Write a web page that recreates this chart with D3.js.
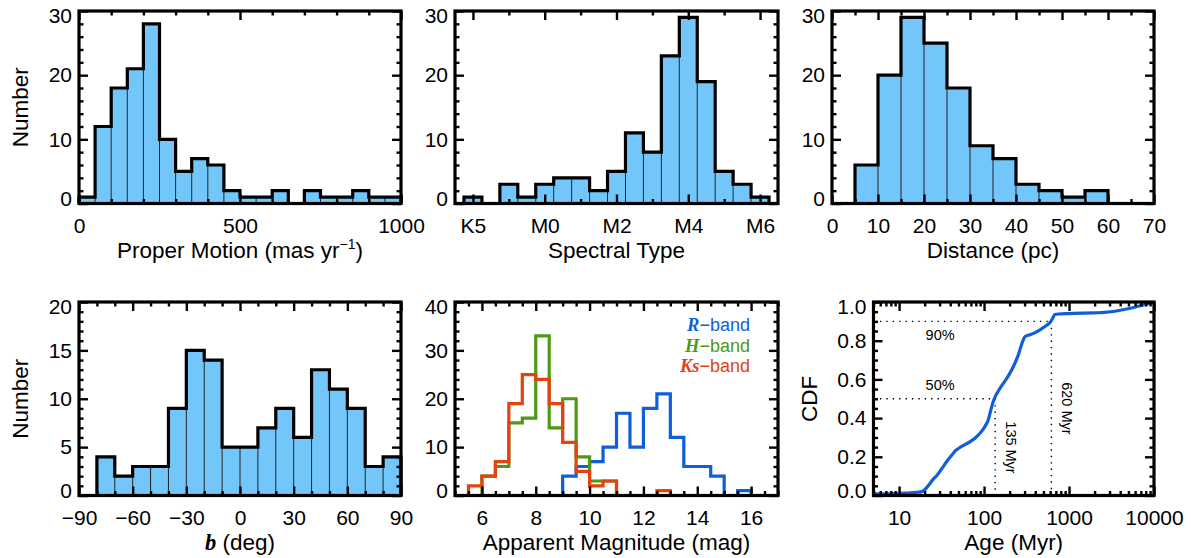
<!DOCTYPE html>
<html><head><meta charset="utf-8">
<script src="https://cdn.jsdelivr.net/npm/d3@7"></script>
<style>
body{margin:0;background:#fff}
svg{display:block}
</style></head><body>
<svg id="c" width="1191" height="558"></svg>
<script>
// ---------------- DATA ----------------
const pmEdges  = [0,50,100,150,200,250,300,350,400,450,500,550,600,650,700,750,800,850,900,950,1000];
const pmCounts = [1,12,18,21,28,10,5,7,6,2,1,1,2,0,2,1,1,2,1,1];

const spCenters = [-2,-1.5,-1,-0.5,0,0.5,1,1.5,2,2.5,3,3.5,4,4.5,5,5.5,6];
const spCounts  = [1,0,3,1,3,4,4,2,5,11,8,23,29,19,5,3,1];
const spTickValues = [-2,0,2,4,6];
const spTickLabels = ["K5","M0","M2","M4","M6"];

const distEdges  = [5,10,15,20,25,30,35,40,45,50,55,60];
const distCounts = [6,20,29,25,18,9,7,3,2,1,2];

const bEdges  = [-90,-80,-70,-60,-50,-40,-30,-20,-10,0,10,20,30,40,50,60,70,80,90];
const bCounts = [0,4,2,3,3,9,15,14,5,5,7,9,6,13,11,9,3,4];

const magEdges = [5.5,6,6.5,7,7.5,8,8.5,9,9.5,10,10.5,11,11.5,12,12.5,13,13.5,14,14.5,15,15.5,16];
const magR  = [0,0,0,0,0,0,0,4,6,7,10,17,10,18,21,12,6,6,4,0,1];
const magH  = [0,4,6,15,16,33,14,20,8,3,3,0,0,0,0,0,0,0,0,0,0];
const magKs = [2,4,7,19,25,24,19,11,5,2,3,0,0,0,1,0,0,0,0,0,0];
const bandNames = ["R","H","Ks"];

const ageMyr = [5,8,12,16,18.5,20,22,25,28,32,37,42,46,50,58,68,80,95,105,112,120,128,135,145,160,185,215,250,290,305,340,400,470,540,600,640,680,750,1000,1500,2000,2600,3300,4300,5300,6500,8000,10000];
const cdfVal = [0.008,0.009,0.012,0.016,0.02,0.03,0.05,0.082,0.105,0.14,0.18,0.21,0.232,0.243,0.26,0.277,0.30,0.335,0.365,0.39,0.44,0.485,0.51,0.535,0.565,0.605,0.655,0.72,0.805,0.822,0.83,0.842,0.86,0.878,0.895,0.915,0.935,0.938,0.94,0.942,0.944,0.946,0.951,0.96,0.968,0.978,0.988,0.998];
const cdfMarks = [{age:135, level:0.5, pct:"50%", lab:"135 Myr", pctAbove:true},{age:620, level:0.9, pct:"90%", lab:"620 Myr", pctAbove:false}];

// ---------------- STYLE ----------------
const FONT = '"Liberation Sans", Arial, Helvetica, sans-serif';
const SERIF = '"Liberation Serif", "Times New Roman", Times, serif';
const TICK_FS = 21, TITLE_FS = 22.5;
const FILL = "#72c6fa";
const BLUE = "#0f5fd8", GREEN = "#4f9a10", RED = "#e4420e";
const MAJ = 9, MIN = 4.5;

const svg = d3.select("#c");

function panel(x0, y0){ return svg.append("g").attr("transform", `translate(${x0},${y0})`); }

function axes(g, x, y, o){
  const w = x.range()[1], h = y.range()[0];
  const style = s => {
    s.select(".domain").remove();
    s.selectAll(".tick line").attr("stroke","#000").attr("stroke-width",2.4);
    s.selectAll(".tick text").attr("fill","#000").attr("font-size",TICK_FS).attr("font-family",FONT);
  };
  const mk = (ax, vals, size, fmt, pad) => ax.tickValues(vals).tickSize(size).tickFormat(fmt || (()=>"")).tickPadding(pad||0);
  g.append("g").attr("transform",`translate(0,${h})`).call(mk(d3.axisBottom(x), o.xMajor, -MAJ, o.xFmt, 14.5)).call(style);
  g.append("g").attr("transform",`translate(0,${h})`).call(mk(d3.axisBottom(x), o.xMinor, -MIN)).call(style);
  g.append("g").call(mk(d3.axisTop(x), o.xMajor, -MAJ)).call(style);
  g.append("g").call(mk(d3.axisTop(x), o.xMinor, -MIN)).call(style);
  const la = g.append("g").call(mk(d3.axisLeft(y), o.yMajor, -MAJ, o.yFmt, 7)).call(style);
  const t = la.selectAll(".tick text"); const n = t.size();
  t.attr("y", (d,i)=> i===0 ? -5 : (i===n-1 ? 5 : 0));
  g.append("g").call(mk(d3.axisLeft(y), o.yMinor, -MIN)).call(style);
  g.append("g").attr("transform",`translate(${w},0)`).call(mk(d3.axisRight(y), o.yMajor, -MAJ)).call(style);
  g.append("g").attr("transform",`translate(${w},0)`).call(mk(d3.axisRight(y), o.yMinor, -MIN)).call(style);
  g.append("rect").attr("width",w).attr("height",h).attr("fill","none").attr("stroke","#000").attr("stroke-width",3.2);
}

function stepPts(edges, counts){
  const pts = [[edges[0],0]];
  counts.forEach((c,i)=>pts.push([edges[i],c]));
  pts.push([edges[edges.length-1], counts[counts.length-1]]);
  pts.push([edges[edges.length-1], 0]);
  return pts;
}
function stepLine(x,y){ return d3.line().x(d=>x(d[0])).y(d=>y(d[1])).curve(d3.curveStepAfter); }

function hist(g, x, y, edges, counts){
  const bins = counts.map((c,i)=>({x0:edges[i], x1:edges[i+1], c}));
  g.append("g").selectAll("rect").data(bins.filter(d=>d.c>0)).join("rect")
    .attr("x", d=>x(d.x0)).attr("y", d=>y(d.c))
    .attr("width", d=>x(d.x1)-x(d.x0)).attr("height", d=>y(0)-y(d.c))
    .attr("fill", FILL);
  const div = [];
  for(let i=1;i<bins.length;i++){ const m = Math.min(bins[i-1].c, bins[i].c); if(m>0) div.push({e:edges[i], m}); }
  g.append("g").selectAll("line").data(div).join("line")
    .attr("x1",d=>x(d.e)).attr("x2",d=>x(d.e)).attr("y1",y(0)).attr("y2",d=>y(d.m))
    .attr("stroke","#222").attr("stroke-width",1);
  g.append("path").attr("d", stepLine(x,y)(stepPts(edges,counts)))
    .attr("fill","none").attr("stroke","#000").attr("stroke-width",3.2).attr("stroke-linejoin","miter");
}

function xTitle(g, w, h, build){
  const t = g.append("text").attr("x", w/2).attr("y", h+54).attr("text-anchor","middle")
    .attr("font-family",FONT).attr("font-size",TITLE_FS).attr("fill","#000");
  build(t);
}
function yTitle(g, h, xpos, str){
  g.append("text").attr("transform",`translate(${xpos},${h/2}) rotate(-90)`).attr("text-anchor","middle")
    .attr("font-family",FONT).attr("font-size",TITLE_FS).attr("fill","#000").text(str);
}

const TOPY = 11, TOPH = 192.5, BOTY = 302, BOTH = 193.5;
const r10 = (a,b,s) => d3.range(a,b+1e-9,s);
const notIn = (arr, maj) => arr.filter(v=>!maj.some(m=>Math.abs(m-v)<1e-9));
const fmtInt = d3.format("d");
const fmtMinus = d => (d<0 ? "\u2212"+Math.abs(d) : String(d));

// ---------- Panel 1: proper motion ----------
{
  const x0=79, w=322, g=panel(x0,TOPY);
  const x=d3.scaleLinear().domain([0,1000]).range([0,w]);
  const y=d3.scaleLinear().domain([0,30]).range([TOPH,0]);
  hist(g,x,y,pmEdges,pmCounts);
  const xMajor=[0,500,1000], yMajor=[0,10,20,30];
  axes(g,x,y,{xMajor, xMinor:notIn(r10(0,1000,100),xMajor), xFmt:fmtInt, yMajor, yMinor:notIn(r10(0,30,2),yMajor), yFmt:fmtInt});
  xTitle(g,w,TOPH,t=>{ t.append("tspan").text("Proper Motion (mas yr");
    t.append("tspan").attr("font-size",14).attr("dy",-9).text("\u22121");
    t.append("tspan").attr("dy",9).text(")"); });
  yTitle(g,TOPH,27.5-x0,"Number");
}
// ---------- Panel 2: spectral type ----------
{
  const x0=455, w=323, g=panel(x0,TOPY);
  const x=d3.scaleLinear().domain([-2.5,6.5]).range([0,w]);
  const y=d3.scaleLinear().domain([0,30]).range([TOPH,0]);
  const half = (spCenters[1]-spCenters[0])/2;
  const edges = spCenters.map(c=>c-half).concat([spCenters[spCenters.length-1]+half]);
  hist(g,x,y,edges,spCounts);
  const yMajor=[0,10,20,30];
  axes(g,x,y,{xMajor:spTickValues, xMinor:[-1,1,3,5], xFmt:d=>spTickLabels[spTickValues.indexOf(d)], yMajor, yMinor:notIn(r10(0,30,2),yMajor), yFmt:fmtInt});
  xTitle(g,w,TOPH,t=>t.text("Spectral Type"));
}
// ---------- Panel 3: distance ----------
{
  const x0=832, w=322, g=panel(x0,TOPY);
  const x=d3.scaleLinear().domain([0,70]).range([0,w]);
  const y=d3.scaleLinear().domain([0,30]).range([TOPH,0]);
  hist(g,x,y,distEdges,distCounts);
  const xMajor=r10(0,70,10), yMajor=[0,10,20,30];
  axes(g,x,y,{xMajor, xMinor:notIn(r10(0,70,5),xMajor), xFmt:fmtInt, yMajor, yMinor:notIn(r10(0,30,2),yMajor), yFmt:fmtInt});
  xTitle(g,w,TOPH,t=>t.text("Distance (pc)"));
}
// ---------- Panel 4: galactic latitude ----------
{
  const x0=79, w=322, g=panel(x0,BOTY);
  const x=d3.scaleLinear().domain([-90,90]).range([0,w]);
  const y=d3.scaleLinear().domain([0,20]).range([BOTH,0]);
  hist(g,x,y,bEdges,bCounts);
  const xMajor=r10(-90,90,30), yMajor=r10(0,20,5);
  axes(g,x,y,{xMajor, xMinor:notIn(r10(-90,90,10),xMajor), xFmt:fmtMinus, yMajor, yMinor:notIn(r10(0,20,1),yMajor), yFmt:fmtInt});
  xTitle(g,w,BOTH,t=>{ t.append("tspan").attr("font-family",SERIF).attr("font-weight","bold").attr("font-style","italic").text("b");
    t.append("tspan").text(" (deg)"); });
  yTitle(g,BOTH,27.5-x0,"Number");
}
// ---------- Panel 5: apparent magnitudes ----------
{
  const x0=455, w=323, g=panel(x0,BOTY);
  const x=d3.scaleLinear().domain([5,17]).range([0,w]);
  const y=d3.scaleLinear().domain([0,40]).range([BOTH,0]);
  const series=[{c:magR,col:BLUE},{c:magH,col:GREEN},{c:magKs,col:RED}];
  const line=stepLine(x,y);
  g.append("g").selectAll("path").data(series).join("path")
    .attr("d",d=>line(stepPts(magEdges,d.c))).attr("fill","none")
    .attr("stroke",d=>d.col).attr("stroke-width",3.2).attr("stroke-linejoin","miter");
  const xMajor=r10(6,16,2), yMajor=r10(0,40,10);
  axes(g,x,y,{xMajor, xMinor:notIn(r10(5,17,0.5),xMajor), xFmt:fmtInt, yMajor, yMinor:notIn(r10(0,40,2),yMajor), yFmt:fmtInt});
  xTitle(g,w,BOTH,t=>t.text("Apparent Magnitude (mag)"));
  const cols=[BLUE,GREEN,RED];
  const lg=g.append("g");
  bandNames.forEach((nm,i)=>{
    const t=lg.append("text").attr("x",295).attr("y",29.3+i*20.2).attr("text-anchor","end")
      .attr("font-family",FONT).attr("font-size",18).attr("fill",cols[i]);
    t.append("tspan").attr("font-family",SERIF).attr("font-weight","bold").attr("font-style","italic").attr("font-size",18.5).text(nm);
    t.append("tspan").text("\u2212band");
  });
}
// ---------- Panel 6: age CDF ----------
{
  const x0=873.5, w=280.5, g=panel(x0,BOTY);
  const x=d3.scaleLog().domain([5,10000]).range([0,w]);
  const y=d3.scaleLinear().domain([0,1]).range([BOTH,0]);
  const dots=g.append("g").attr("stroke","#000").attr("stroke-width",1.4).attr("stroke-dasharray","1.4,5");
  cdfMarks.forEach(m=>{
    dots.append("line").attr("x1",0).attr("x2",x(m.age)).attr("y1",y(m.level)).attr("y2",y(m.level));
    dots.append("line").attr("x1",x(m.age)).attr("x2",x(m.age)).attr("y1",y(m.level)).attr("y2",y(0));
  });
  g.append("path").datum(ageMyr.map((a,i)=>[a,cdfVal[i]]))
    .attr("d",d3.line().x(d=>x(d[0])).y(d=>y(d[1])).curve(d3.curveMonotoneX))
    .attr("fill","none").attr("stroke",BLUE).attr("stroke-width",3.2);
  cdfMarks.forEach(m=>{
    g.append("text").attr("x",x(10)+41).attr("y",y(m.level)+(m.pctAbove ? -9 : 19)).attr("text-anchor","middle")
      .attr("font-family",FONT).attr("font-size",14.5).attr("fill","#000").text(m.pct);
    const cy = m.age<300 ? y(0.248) : y(0.45);
    g.append("text").attr("transform",`translate(${x(m.age)+11},${cy}) rotate(90)`).attr("text-anchor","middle")
      .attr("font-family",FONT).attr("font-size",14.5).attr("fill","#000").text(m.lab);
  });
  const xMajor=[10,100,1000,10000];
  const xMinor=[5,6,7,8,9].concat([20,30,40,50,60,70,80,90],[200,300,400,500,600,700,800,900],[2000,3000,4000,5000,6000,7000,8000,9000]);
  const yMajor=[0,0.2,0.4,0.6,0.8,1.0];
  axes(g,x,y,{xMajor, xMinor, xFmt:d=>String(d), yMajor, yMinor:notIn(r10(0,1,0.05),yMajor), yFmt:d3.format(".1f")});
  xTitle(g,w,BOTH,t=>t.text("Age (Myr)"));
  yTitle(g,BOTH,817-x0,"CDF");
}
</script>
</body></html>
